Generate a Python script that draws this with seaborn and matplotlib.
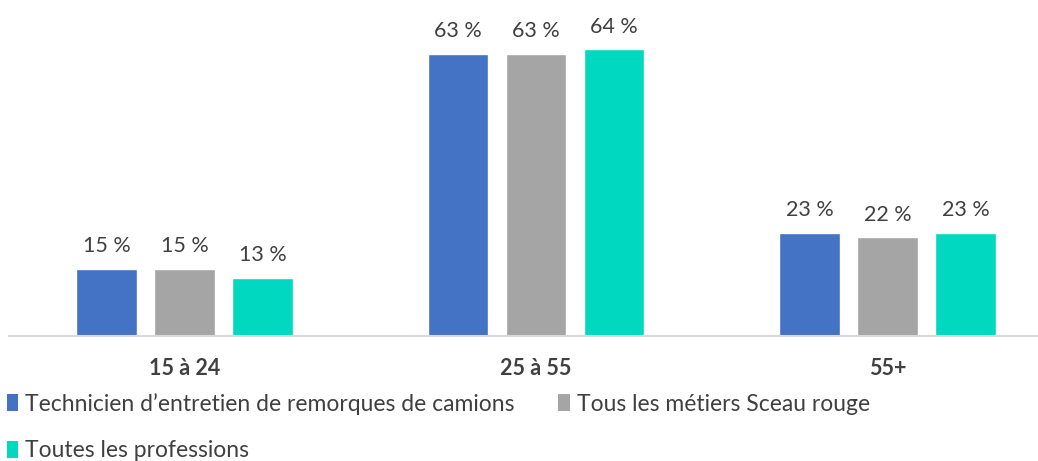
import matplotlib
matplotlib.use("Agg")
import matplotlib.pyplot as plt
import seaborn as sns
import pandas as pd
from matplotlib.patches import Patch

categories = ["15 à 24", "25 à 55", "55+"]
series_names = ["Technicien d’entretien de remorques de camions",
                "Tous les métiers Sceau rouge",
                "Toutes les professions"]
technicien = [15, 63, 23]
sceau_rouge = [15, 63, 22]
toutes = [13, 64, 23]
colors = ["#4472C4", "#A5A5A5", "#00D9C0"]

sns.set_theme(style="white")
plt.rcParams['font.family'] = ['Lato', 'DejaVu Sans']

rows = []
for name, vals in zip(series_names, [technicien, sceau_rouge, toutes]):
    for c, v in zip(categories, vals):
        rows.append({"cat": c, "series": name, "val": v})
df = pd.DataFrame(rows)

W, H = 1038, 461
fig = plt.figure(figsize=(W / 100, H / 100), dpi=100)
left = 8.75 / W
ax = fig.add_axes([left, 125 / H, 1054.5 / W, 336 / H])

sns.barplot(data=df, x="cat", y="val", hue="series", palette=colors,
            order=categories, hue_order=series_names,
            width=0.666, gap=0.22, ax=ax, legend=False, saturation=1)

ax.set_ylim(0, 75)
ax.set_xlim(-0.5, 2.5)
for s in ["top", "right", "left"]:
    ax.spines[s].set_visible(False)
ax.spines["bottom"].set_color("#D9D9D9")
ax.spines["bottom"].set_linewidth(1.5)
ax.set_yticks([])
ax.set_xlabel("")
ax.set_ylabel("")
ax.tick_params(axis="x", length=0, pad=16)
for t in ax.get_xticklabels():
    t.set_fontweight("bold")
    t.set_fontsize(15.5)
    t.set_color("#404040")

for cont in ax.containers:
    ax.bar_label(cont, labels=[f"{v:.0f} %" for v in cont.datavalues],
                 padding=9, fontsize=15.5, color="#404040")

order = [0, 2, 1]
handles = [Patch(facecolor=colors[i], edgecolor="none") for i in order]
labels = [series_names[i] for i in order]
leg = fig.legend(handles, labels, loc="upper left",
                 bbox_to_anchor=(0.0, 1 - 386 / H), ncol=2, frameon=False,
                 fontsize=16.5, handlelength=0.5, handleheight=0.75,
                 handletextpad=0.3, columnspacing=1.9, labelspacing=1.12,
                 borderaxespad=0, borderpad=0.3)
for t in leg.get_texts():
    t.set_color("#404040")

fig.savefig("out.png", dpi=100)
